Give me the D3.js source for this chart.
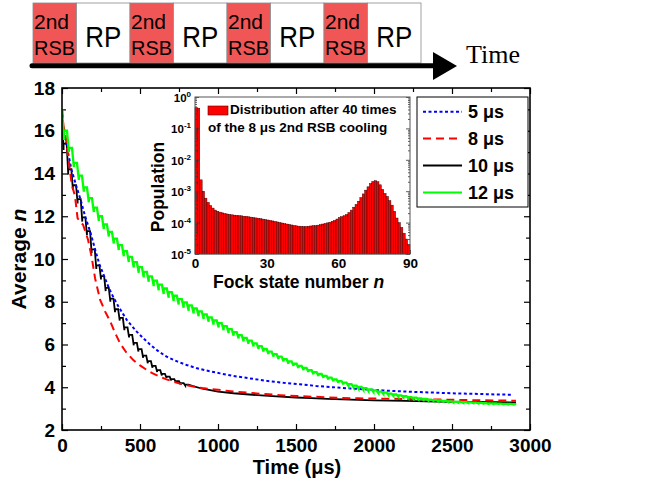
<!DOCTYPE html>
<html><head><meta charset="utf-8">
<script src="https://cdn.jsdelivr.net/npm/d3@7"></script>
<style>
body{margin:0;background:#fff}
svg{display:block}
text{font-family:"Liberation Sans",Arial,Helvetica,sans-serif}
</style>
</head><body>
<svg id="chart" width="656" height="487"></svg>
<script>
// ---- sequence banner ----
const stageLabels = [["2nd","RSB"],["RP"],["2nd","RSB"],["RP"],["2nd","RSB"],["RP"],["2nd","RSB"],["RP"]];

// ---- main plot: average phonon number vs time ----
const timeTicks = [0,500,1000,1500,2000,2500,3000];
const timeMinorTicks = [250,750,1250,1750,2250,2750];
const nTicks = [2,4,6,8,10,12,14,16,18];
const nMinorTicks = [3,5,7,9,11,13,15,17];
const seriesLabels = ["5 \u03bcs","8 \u03bcs","10 \u03bcs","12 \u03bcs"];

// 12 us pulses: level at the start of each cycle and the dip at the end of each RSB pulse
const green12Period = 32, green12Pulse = 12;
const green12Top = [17.0,16.0,15.2,14.5,13.9,13.35,12.85,12.4,12.0,11.62,
  11.27,10.95,10.65,10.37,10.1,9.85,9.62,9.4,9.19,8.99,
  8.8,8.62,8.45,8.28,8.12,7.97,7.83,7.69,7.55,7.41,
  7.27,7.13,7.0,6.86,6.72,6.58,6.44,6.31,6.18,6.05,
  5.92,5.79,5.67,5.55,5.43,5.32,5.21,5.1,5.0,4.9,
  4.8,4.71,4.62,4.53,4.45,4.37,4.29,4.22,4.15,4.08,
  4.02,3.96,3.9,3.85,3.8,3.75,3.7,3.66,3.62,3.58,
  3.54,3.51,3.48,3.45,3.42,3.4,3.38,3.36,3.34,3.32,
  3.31,3.3,3.29,3.28,3.27,3.26,3.25,3.24,3.23,3.22,
  3.22,3.21];
const green12Bottom = [15.57,15.0,14.3,13.7,13.15,12.65,12.2,11.78,11.4,11.05,
  10.72,10.42,10.13,9.86,9.6,9.36,9.14,8.93,8.73,8.54,
  8.36,8.19,8.03,7.87,7.72,7.58,7.45,7.32,7.19,7.06,
  6.93,6.8,6.67,6.54,6.41,6.28,6.15,6.03,5.91,5.79,
  5.67,5.55,5.43,5.32,5.21,5.1,5.0,4.9,4.8,4.71,
  4.61,4.53,4.44,4.36,4.28,4.21,4.13,4.07,4.0,3.94,
  3.88,3.83,3.78,3.73,3.69,3.64,3.6,3.56,3.53,3.49,
  3.46,3.43,3.41,3.38,3.36,3.34,3.33,3.31,3.29,3.28,
  3.27,3.26,3.26,3.25,3.24,3.23,3.22,3.22,3.21,3.2,
  3.2];

// 10 us pulses: stepped start, then smooth tail
const black10Period = 30, black10Pulse = 10;
const black10Top = [17.0,15.4,14.2,13.45,12.8,11.95,11.3,10.45,9.7,9.2,
  8.65,8.15,7.65,7.25,6.8,6.45,6.08,5.78,5.48,5.22,
  5.0,4.8,4.63,4.5,4.38,4.28,4.19,4.12];
const black10Bottom = [15.1,13.95,13.23,12.6,11.75,11.12,10.27,9.53,9.04,8.5,
  8.0,7.51,7.12,6.67,6.33,5.96,5.67,5.38,5.12,4.91,
  4.71,4.55,4.43,4.32,4.23,4.14,4.08];
const black10Tail = [[840,4.05],[900,3.93],[1000,3.8],[1100,3.72],[1200,3.66],[1300,3.61],
  [1400,3.56],[1500,3.52],[1600,3.49],[1700,3.46],[1800,3.43],[1900,3.41],[2000,3.39],
  [2200,3.36],[2400,3.33],[2600,3.31],[2800,3.3],[2910,3.29]];

// 8 us pulses
const red8 = [[0,17.0],[10,16.2],[20,15.9],[40,14.8],[62,13.5],[83,12.95],[100,11.9],[135,11.6],
  [167,10.9],[190,10.1],[212,9.1],[244,8.1],[276,7.55],[308,7.1],[340,6.55],[372,6.06],
  [410,5.65],[457,5.27],[500,5.02],[543,4.81],[585,4.64],[628,4.49],[670,4.37],[714,4.26],
  [756,4.17],[799,4.1],[850,4.02],[900,3.96],[1000,3.88],[1100,3.8],[1200,3.74],[1300,3.68],
  [1400,3.63],[1500,3.59],[1600,3.56],[1700,3.53],[1800,3.5],[1900,3.48],[2000,3.47],
  [2200,3.45],[2400,3.43],[2600,3.4],[2800,3.38],[2910,3.37]];

// 5 us pulses
const blue5 = [[0,17.0],[8,16.1],[30,15.3],[60,14.2],[90,13.45],[120,12.75],[150,11.95],
  [180,11.3],[210,10.5],[240,9.75],[270,9.2],[300,8.65],[330,8.2],[360,7.8],[415,7.15],
  [479,6.6],[520,6.3],[564,6.0],[615,5.7],[671,5.43],[735,5.22],[799,5.04],[860,4.9],
  [927,4.78],[1013,4.65],[1098,4.53],[1200,4.42],[1312,4.3],[1420,4.21],[1526,4.14],
  [1630,4.06],[1739,4.0],[1850,3.94],[1953,3.9],[2060,3.85],[2167,3.81],[2270,3.78],
  [2380,3.75],[2490,3.72],[2594,3.7],[2700,3.68],[2800,3.66],[2893,3.65]];

// ---- inset: Fock-state populations n = 0..89 ----
const fockPopulation = [0.46,0.44,2.3e-3,1.0e-3,6.0e-4,4.4e-4,3.5e-4,2.9e-4,2.5e-4,2.3e-4,
  2.15e-4,2.05e-4,1.95e-4,1.88e-4,1.82e-4,1.77e-4,1.73e-4,1.7e-4,1.67e-4,1.64e-4,
  1.6e-4,1.57e-4,1.53e-4,1.49e-4,1.45e-4,1.41e-4,1.37e-4,1.33e-4,1.29e-4,1.25e-4,
  1.21e-4,1.17e-4,1.13e-4,1.09e-4,1.05e-4,1.01e-4,9.7e-5,9.3e-5,9.0e-5,8.7e-5,
  8.4e-5,8.1e-5,7.9e-5,7.7e-5,7.6e-5,7.5e-5,7.5e-5,7.6e-5,7.8e-5,8.0e-5,
  8.0e-5,8.3e-5,8.6e-5,9.0e-5,9.4e-5,9.8e-5,1.03e-4,1.1e-4,1.17e-4,1.3e-4,
  1.45e-4,1.55e-4,1.65e-4,1.8e-4,2.1e-4,2.5e-4,3.1e-4,3.8e-4,4.8e-4,6.3e-4,
  8.2e-4,1.08e-3,1.38e-3,1.75e-3,2.05e-3,2.15e-3,2.0e-3,1.6e-3,1.15e-3,8.5e-4,
  6.8e-4,5.0e-4,3.6e-4,2.3e-4,1.4e-4,1.0e-4,7.0e-5,4.6e-5,3.0e-5,2.0e-5];
const fockTicks = [0,30,60,90];
const popExponents = [0,-1,-2,-3,-4,-5];

const FONT = '"Liberation Sans",Arial,Helvetica,sans-serif';
const svg = d3.select("#chart");

// ================= banner =================
const banner = svg.append("g");
let bx = 33;
stageLabels.forEach((lab) => {
  const isRsb = lab.length === 2;
  const w = isRsb ? 43.5 : 53.5;
  banner.append("rect").attr("x", bx).attr("y", 3).attr("width", w).attr("height", 60)
    .attr("fill", isRsb ? "#f05656" : "#fff").attr("stroke", "#8a8a8a").attr("stroke-width", 0.8);
  if (isRsb) {
    banner.append("text").attr("x", bx + 1).attr("y", 28.5).attr("font-size", 21).text(lab[0]);
    banner.append("text").attr("x", bx + 1).attr("y", 55).attr("font-size", 21)
      .attr("textLength", 41).attr("lengthAdjust", "spacingAndGlyphs").text(lab[1]);
  } else {
    banner.append("text").attr("x", bx + w / 2).attr("y", 47).attr("font-size", 30)
      .attr("text-anchor", "middle").attr("textLength", 36).attr("lengthAdjust", "spacingAndGlyphs").text(lab[0]);
  }
  bx += w;
});
banner.append("line").attr("x1", 32).attr("x2", 438).attr("y1", 65.8).attr("y2", 65.8)
  .attr("stroke", "#000").attr("stroke-width", 5).attr("stroke-linecap", "round");
banner.append("path").attr("d", "M433,52L457,66L433,80Z").attr("fill", "#000");
banner.append("text").attr("x", 466).attr("y", 63).attr("font-size", 26)
  .style("font-family", '"Liberation Serif","Times New Roman",serif').text("Time");

// ================= main plot =================
const L = 62, R = 530, T = 88, B = 430;
const X = d3.scaleLinear().domain([0, 3000]).range([L, R]);
const Y = d3.scaleLinear().domain([2, 18]).range([B, T]);

svg.append("defs").append("clipPath").attr("id", "clipMain")
  .append("rect").attr("x", L).attr("y", T).attr("width", R - L).attr("height", B - T);

function styleAxis(g, size) {
  g.select(".domain").remove();
  g.selectAll("line").attr("stroke", "#000").attr("stroke-width", 1.2);
  g.selectAll("text").attr("font-size", size).attr("font-weight", "bold")
    .attr("font-family", FONT).attr("fill", "#000");
}

svg.append("g").attr("transform", `translate(0,${B})`)
  .call(d3.axisBottom(X).tickValues(timeTicks).tickSize(-6).tickPadding(9).tickFormat(d3.format("d")))
  .call(g => styleAxis(g, 19));
svg.append("g").attr("transform", `translate(0,${B})`)
  .call(d3.axisBottom(X).tickValues(timeMinorTicks).tickSize(-4).tickFormat(""))
  .call(g => styleAxis(g, 19));
svg.append("g").attr("transform", `translate(0,${T})`)
  .call(d3.axisTop(X).tickValues(timeTicks).tickSize(-6).tickFormat(""))
  .call(g => styleAxis(g, 19));
svg.append("g").attr("transform", `translate(0,${T})`)
  .call(d3.axisTop(X).tickValues(timeMinorTicks).tickSize(-4).tickFormat(""))
  .call(g => styleAxis(g, 19));
svg.append("g").attr("transform", `translate(${L},0)`)
  .call(d3.axisLeft(Y).tickValues(nTicks).tickSize(-6).tickPadding(7).tickFormat(d3.format("d")))
  .call(g => styleAxis(g, 19));
svg.append("g").attr("transform", `translate(${L},0)`)
  .call(d3.axisLeft(Y).tickValues(nMinorTicks).tickSize(-4).tickFormat(""))
  .call(g => styleAxis(g, 19));
svg.append("g").attr("transform", `translate(${R},0)`)
  .call(d3.axisRight(Y).tickValues(nTicks).tickSize(-6).tickFormat(""))
  .call(g => styleAxis(g, 19));
svg.append("g").attr("transform", `translate(${R},0)`)
  .call(d3.axisRight(Y).tickValues(nMinorTicks).tickSize(-4).tickFormat(""))
  .call(g => styleAxis(g, 19));

// pulse-train curve: dip during each RSB pulse, then level after repumping
function pulseTrain(tops, bottoms, period, pulse) {
  const pts = [];
  bottoms.forEach((b, k) => {
    const t0 = k * period;
    pts.push([t0, tops[k]]);
    pts.push([t0 + pulse, b]);
    pts.push([t0 + pulse, tops[k + 1]]);
  });
  pts.push([bottoms.length * period, tops[bottoms.length]]);
  return pts;
}

const line = d3.line().x(d => X(d[0])).y(d => Y(d[1]));
const curves = svg.append("g").attr("clip-path", "url(#clipMain)");

const blackPts = pulseTrain(black10Top, black10Bottom, black10Period, black10Pulse).concat(black10Tail);
const greenPts = pulseTrain(green12Top, green12Bottom, green12Period, green12Pulse);

const seriesDraw = [
  { pts: blackPts, color: "#000", width: 1.8, dash: null },
  { pts: blue5, color: "#0000ff", width: 2, dash: "3,2.5" },
  { pts: red8, color: "#ff0000", width: 2, dash: "8,5" },
  { pts: greenPts, color: "#00ff00", width: 2.3, dash: null }
];
seriesDraw.forEach(s => {
  curves.append("path").datum(s.pts).attr("d", line).attr("fill", "none")
    .attr("stroke", s.color).attr("stroke-width", s.width)
    .attr("stroke-dasharray", s.dash).attr("stroke-linejoin", "miter");
});

svg.append("rect").attr("x", L).attr("y", T).attr("width", R - L).attr("height", B - T)
  .attr("fill", "none").attr("stroke", "#000").attr("stroke-width", 1.6);

// axis titles
svg.append("text").attr("transform", "translate(26,259) rotate(-90)").attr("text-anchor", "middle")
  .attr("font-size", 21).attr("font-weight", "bold")
  .call(t => { t.append("tspan").text("Average "); t.append("tspan").attr("font-style", "italic").text("n"); });
svg.append("text").attr("x", 297).attr("y", 474).attr("text-anchor", "middle")
  .attr("font-size", 20).attr("font-weight", "bold").text("Time (\u03bcs)");

// legend
const legendStyle = [
  { color: "#0000ff", width: 2, dash: "3,2.5" },
  { color: "#ff0000", width: 2, dash: "8,5" },
  { color: "#000", width: 1.8, dash: null },
  { color: "#00ff00", width: 2, dash: null }
];
const lg = svg.append("g");
lg.append("rect").attr("x", 417).attr("y", 97).attr("width", 111).attr("height", 110)
  .attr("fill", "#fff").attr("stroke", "#000").attr("stroke-width", 1);
seriesLabels.forEach((lab, i) => {
  const yy = 111.7 + i * 26.9;
  lg.append("line").attr("x1", 423).attr("x2", 462).attr("y1", yy).attr("y2", yy)
    .attr("stroke", legendStyle[i].color).attr("stroke-width", legendStyle[i].width)
    .attr("stroke-dasharray", legendStyle[i].dash);
  lg.append("text").attr("x", 468).attr("y", yy + 6.5).attr("font-size", 18)
    .attr("font-weight", "bold").text(lab);
});

// ================= inset =================
const iL = 195, iR = 410, iT = 97, iB = 254;
const Xi = d3.scaleLinear().domain([0, 90]).range([iL, iR]);
const Yi = d3.scaleLog().domain([1e-5, 1]).range([iB, iT]);
const inset = svg.append("g");
inset.append("rect").attr("x", iL).attr("y", iT).attr("width", iR - iL).attr("height", iB - iT).attr("fill", "#fff");

inset.selectAll("rect.bar").data(fockPopulation).join("rect").attr("class", "bar")
  .attr("x", (d, i) => Xi(i)).attr("width", Xi(1) - Xi(0))
  .attr("y", d => Yi(d)).attr("height", d => iB - Yi(d))
  .attr("fill", "#ff0000").attr("stroke", "#3a0000").attr("stroke-width", 0.45);

const decades = popExponents.map(e => Math.pow(10, e));
const minorLog = [];
popExponents.slice(1).forEach(e => { for (let m = 2; m <= 9; m++) minorLog.push(m * Math.pow(10, e)); });

function styleInsetAxis(g) {
  g.select(".domain").remove();
  g.selectAll("line").attr("stroke", "#333").attr("stroke-width", 0.8);
  g.selectAll("text").attr("font-size", 13.5).attr("font-weight", "bold")
    .attr("font-family", FONT).attr("fill", "#000");
}
inset.append("g").attr("transform", `translate(0,${iB})`)
  .call(d3.axisBottom(Xi).tickValues(fockTicks).tickSize(-4).tickPadding(4).tickFormat(d3.format("d")))
  .call(styleInsetAxis);
inset.append("g").attr("transform", `translate(${iL},0)`)
  .call(d3.axisLeft(Yi).tickValues(decades).tickSize(-4).tickFormat("")).call(styleInsetAxis);
inset.append("g").attr("transform", `translate(${iL},0)`)
  .call(d3.axisLeft(Yi).tickValues(minorLog).tickSize(-2).tickFormat("")).call(styleInsetAxis);
inset.append("g").attr("transform", `translate(${iR},0)`)
  .call(d3.axisRight(Yi).tickValues(decades).tickSize(-4).tickFormat("")).call(styleInsetAxis);
inset.append("g").attr("transform", `translate(${iR},0)`)
  .call(d3.axisRight(Yi).tickValues(minorLog).tickSize(-2).tickFormat("")).call(styleInsetAxis);

inset.selectAll("text.ylab").data(popExponents).join("text").attr("class", "ylab")
  .attr("x", 191).attr("y", e => Yi(Math.pow(10, e)) + 5).attr("text-anchor", "end")
  .attr("font-weight", "bold").attr("font-size", 11.5)
  .each(function (e) {
    const t = d3.select(this);
    t.append("tspan").text("10");
    t.append("tspan").attr("dy", -5).attr("font-size", 8).text(String(e));
  });

inset.append("rect").attr("x", iL).attr("y", iT).attr("width", iR - iL).attr("height", iB - iT)
  .attr("fill", "none").attr("stroke", "#555").attr("stroke-width", 1);

// inset legend
inset.append("rect").attr("x", 208).attr("y", 106).attr("width", 20).attr("height", 9)
  .attr("fill", "#ff0000").attr("stroke", "#5a0000").attr("stroke-width", 0.6);
inset.append("text").attr("x", 230).attr("y", 113.5).attr("font-size", 13.5).attr("font-weight", "bold")
  .text("Distribution after 40 times");
inset.append("text").attr("x", 208).attr("y", 131.5).attr("font-size", 13.5).attr("font-weight", "bold")
  .text("of the 8 \u03bcs 2nd RSB cooling");

// inset axis titles
inset.append("text").attr("transform", "translate(164,187) rotate(-90)").attr("text-anchor", "middle")
  .attr("font-size", 17.5).attr("font-weight", "bold").text("Population");
inset.append("text").attr("x", 213).attr("y", 288).attr("font-size", 17.5).attr("font-weight", "bold")
  .call(t => { t.append("tspan").text("Fock state number "); t.append("tspan").attr("font-style", "italic").text("n"); });
</script>
</body></html>
